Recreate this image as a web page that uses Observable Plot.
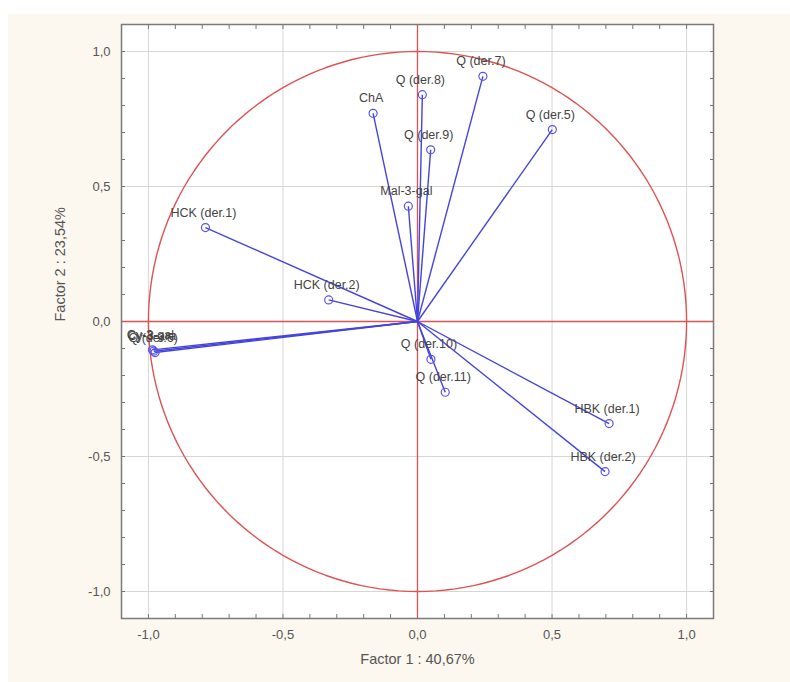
<!DOCTYPE html>
<html>
<head>
<meta charset="utf-8">
<script src="https://cdn.jsdelivr.net/npm/d3@7"></script>
<script src="https://cdn.jsdelivr.net/npm/@observablehq/plot@0.6"></script>
<style>
  html, body { margin: 0; padding: 0; background: #ffffff; }
  #bg { position: absolute; left: 8px; top: 14px; width: 782px; height: 668px; background: #fdf8ef; }
  #chart { position: absolute; left: 0; top: 0; }
</style>
</head>
<body>
<div id="bg"></div>
<div id="chart"></div>
<script>
// Variable names and their loadings on Factor 1 and Factor 2
const names = ["Q (der.7)", "Q (der.8)", "ChA", "Q (der.9)", "Q (der.5)", "Mal-3-gal",
               "HCK (der.1)", "HCK (der.2)", "Cy-3-gal", "Cy-3-ara", "Q (der.6)",
               "Q (der.10)", "Q (der.11)", "HBK (der.1)", "HBK (der.2)"];
const factor1 = [0.243, 0.018, -0.165, 0.049, 0.501, -0.034,
                 -0.788, -0.330, -0.985, -0.980, -0.975,
                 0.050, 0.103, 0.712, 0.697];
const factor2 = [0.908, 0.840, 0.771, 0.636, 0.711, 0.427,
                 0.348, 0.080, -0.105, -0.110, -0.115,
                 -0.140, -0.262, -0.378, -0.556];

const majorTicks = [-1, -0.5, 0, 0.5, 1];
const minorTicks = d3.range(-11, 12).map(i => i / 10);
const fmt = d => d.toFixed(1).replace(".", ",");
const xTitle = "Factor 1 : 40,67%";
const yTitle = "Factor 2 : 23,54%";

const data = names.map((n, i) => ({name: n, f1: factor1[i], f2: factor2[i]}));
// unit circle (correlation circle)
const circle = d3.range(0, 361, 2).map(a => ({cx: Math.cos(a * Math.PI / 180), cy: Math.sin(a * Math.PI / 180)}));

const blue = "#4444dd";
const red = "#e05252";

const chart = Plot.plot({
  width: 790,
  height: 682,
  marginLeft: 121,
  marginRight: 77,
  marginTop: 24,
  marginBottom: 64,
  x: {domain: [-1.1, 1.1]},
  y: {domain: [-1.1, 1.1]},
  style: {background: "transparent", fontFamily: "'Liberation Sans', Arial, sans-serif", fontSize: "13px", color: "#555"},
  marks: [
    Plot.frame({fill: "white", stroke: "none"}),
    Plot.gridX(majorTicks, {stroke: "#d6d6d6", strokeOpacity: 1}),
    Plot.gridY(majorTicks, {stroke: "#d6d6d6", strokeOpacity: 1}),
    // inward minor ticks on all sides
    Plot.axisX(minorTicks, {anchor: "bottom", tickSize: -4, tickFormat: () => "", label: null, stroke: "#777"}),
    Plot.axisX(minorTicks, {anchor: "top", tickSize: -4, tickFormat: () => "", label: null, stroke: "#777"}),
    Plot.axisY(minorTicks, {anchor: "left", tickSize: -4, tickFormat: () => "", label: null, stroke: "#777"}),
    Plot.axisY(minorTicks, {anchor: "right", tickSize: -4, tickFormat: () => "", label: null, stroke: "#777"}),
    // labelled major ticks
    Plot.axisX(majorTicks, {anchor: "bottom", tickSize: 0, tickPadding: 11, tickFormat: fmt, fill: "#555", label: null}),
    Plot.axisY(majorTicks, {anchor: "left", tickSize: 0, tickPadding: 11, tickFormat: fmt, fill: "#555", label: null}),
    // axis titles
    Plot.text([xTitle], {frameAnchor: "bottom", dy: 45, fontSize: 14.5, fill: "#555"}),
    Plot.text([yTitle], {frameAnchor: "left", dx: -61, rotate: -90, fontSize: 14.5, fill: "#555"}),
    Plot.ruleY([0], {stroke: red, strokeWidth: 1.3}),
    Plot.ruleX([0], {stroke: red, strokeWidth: 1.3}),
    Plot.line(circle, {x: "cx", y: "cy", stroke: red, strokeWidth: 1.4}),
    Plot.link(data, {x1: 0, y1: 0, x2: "f1", y2: "f2", stroke: blue, strokeWidth: 1.4}),
    Plot.dot(data, {x: "f1", y: "f2", r: 4, stroke: "#5555ee", fill: "none", strokeWidth: 1.2}),
    Plot.text(data, {x: "f1", y: "f2", text: "name", dy: -15, dx: -2, fill: "#444", fontSize: 12.5}),
    Plot.frame({stroke: "#7a7a7a", strokeWidth: 1.5})
  ]
});
document.getElementById("chart").appendChild(chart);
</script>
</body>
</html>
